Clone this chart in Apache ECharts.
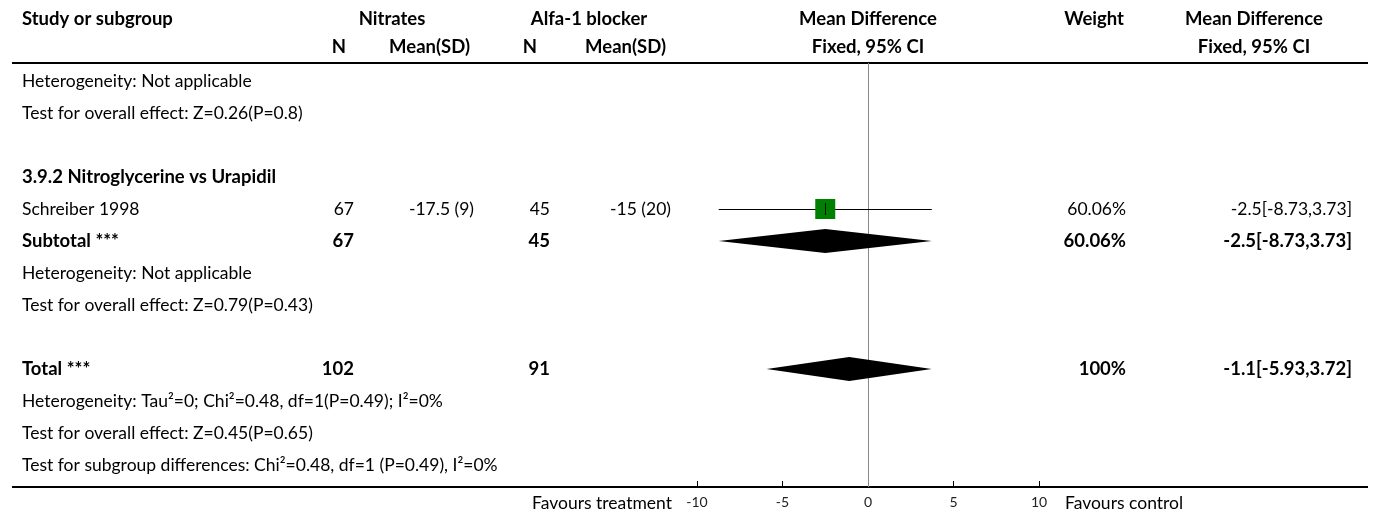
<!DOCTYPE html>
<html>
<head>
<meta charset="utf-8">
<script src="https://cdn.jsdelivr.net/npm/echarts@6/dist/echarts.min.js"></script>
<style>
  html, body { margin: 0; padding: 0; background: #fff; }
  #chart { width: 1373px; height: 515px; }
</style>
</head>
<body>
<div id="chart"></div>
<script>
// Forest plot: Nitrates vs Alfa-1 blocker, mean difference (fixed effect, 95% CI)

// Row labels, one per table line (blank strings are spacer rows)
const rowLabels = [
  'Heterogeneity: Not applicable',
  'Test for overall effect: Z=0.26(P=0.8)',
  '',
  '3.9.2 Nitroglycerine vs Urapidil',
  'Schreiber 1998',
  'Subtotal ***',
  'Heterogeneity: Not applicable',
  'Test for overall effect: Z=0.79(P=0.43)',
  '',
  'Total ***',
  'Heterogeneity: Tau\u00b2=0; Chi\u00b2=0.48, df=1(P=0.49); I\u00b2=0%',
  'Test for overall effect: Z=0.45(P=0.65)',
  'Test for subgroup differences: Chi\u00b2=0.48, df=1 (P=0.49), I\u00b2=0%'
];
// Which rows are set in bold
const boldRows = [3, 5, 9];

// Individual study
const studyRow = [4];
const nitratesN = [67];
const nitratesMeanSD = ['-17.5 (9)'];
const alfaN = [45];
const alfaMeanSD = ['-15 (20)'];
const studyMD = [-2.5];
const studyLow = [-8.73];
const studyHigh = [3.73];
const studyWeight = ['60.06%'];

// Pooled estimates (subtotal and total)
const pooledRow = [5, 9];
const pooledNitratesN = [67, 102];
const pooledAlfaN = [45, 91];
const pooledMD = [-2.5, -1.1];
const pooledLow = [-8.73, -5.93];
const pooledHigh = [3.73, 3.72];
const pooledWeight = ['60.06%', '100%'];

// Axis ticks of the effect scale
const axisMin = -10, axisMax = 10, axisStep = 5;

const FONT = 'Lato, "Source Sans Pro", "Noto Sans", sans-serif';
const fontN = '17.5px ' + FONT;
const fontB = 'bold 18.5px ' + FONT;

function ciText(md, lo, hi) { return md + '[' + lo + ',' + hi + ']'; }

// Text contents of each row, per column
const tableRows = rowLabels.map((label, r) => {
  const cells = { label: label, bold: boldRows.includes(r) };
  const s = studyRow.indexOf(r);
  if (s >= 0) {
    cells.nN = String(nitratesN[s]); cells.nM = nitratesMeanSD[s];
    cells.aN = String(alfaN[s]); cells.aM = alfaMeanSD[s];
    cells.w = studyWeight[s]; cells.ci = ciText(studyMD[s], studyLow[s], studyHigh[s]);
  }
  const p = pooledRow.indexOf(r);
  if (p >= 0) {
    cells.nN = String(pooledNitratesN[p]); cells.aN = String(pooledAlfaN[p]);
    cells.w = pooledWeight[p]; cells.ci = ciText(pooledMD[p], pooledLow[p], pooledHigh[p]);
  }
  return [0, r, cells];
});

const COL = { label: 22, nN: 354, nM: 474, aN: 550, aM: 671, w: 1126, ci: 1352 };

function txt(x, y, text, font, align) {
  return {
    type: 'text', x: x, y: y,
    style: { text: text, font: font, fill: '#000', textAlign: align, textVerticalAlign: 'middle' }
  };
}

const chart = echarts.init(document.getElementById('chart'), null, { renderer: 'canvas' });

chart.setOption({
  animation: false,
  backgroundColor: '#fff',
  grid: { left: 697, width: 342, top: 63, height: 424 },
  xAxis: {
    type: 'value', min: axisMin, max: axisMax, interval: axisStep, position: 'bottom',
    axisLine: { show: true, onZero: false, lineStyle: { color: '#000', width: 2 } },
    axisTick: { show: true, inside: true, length: 6, lineStyle: { color: '#000', width: 1 } },
    axisLabel: { fontSize: 14, color: '#222', margin: 8, fontFamily: FONT },
    splitLine: { show: false }
  },
  yAxis: {
    type: 'value', inverse: true, min: -0.5625, max: 12.6875, show: false
  },
  graphic: [
    // header text
    txt(22, 19, 'Study or subgroup', fontB, 'left'),
    txt(392, 19, 'Nitrates', fontB, 'center'),
    txt(589, 19, 'Alfa-1 blocker', fontB, 'center'),
    txt(868, 19, 'Mean Difference', fontB, 'center'),
    txt(1124, 19, 'Weight', fontB, 'right'),
    txt(1254, 19, 'Mean Difference', fontB, 'center'),
    txt(346, 47, 'N', fontB, 'right'),
    txt(470, 47, 'Mean(SD)', fontB, 'right'),
    txt(537, 47, 'N', fontB, 'right'),
    txt(666, 47, 'Mean(SD)', fontB, 'right'),
    txt(868, 47, 'Fixed, 95% CI', fontB, 'center'),
    txt(1254, 47, 'Fixed, 95% CI', fontB, 'center'),
    // rules
    { type: 'line', shape: { x1: 12, y1: 63, x2: 1368, y2: 63 }, style: { stroke: '#000', lineWidth: 2 } },
    { type: 'line', shape: { x1: 12, y1: 487, x2: 1368, y2: 487 }, style: { stroke: '#000', lineWidth: 2 } },
    // favours labels
    txt(672, 503, 'Favours treatment', fontN, 'right'),
    txt(1065, 503, 'Favours control', fontN, 'left')
  ],
  series: [
    {
      // table text, positioned on the row scale
      type: 'custom', clip: false, silent: true,
      data: tableRows,
      renderItem: function (params, api) {
        const item = tableRows[params.dataIndex][2];
        const y = api.coord([0, api.value(1)])[1];
        const f = item.bold ? fontB : fontN;
        const ch = [];
        if (item.label) ch.push(txt(COL.label, y, item.label, f, 'left'));
        ['nN', 'nM', 'aN', 'aM', 'w', 'ci'].forEach(k => {
          if (item[k]) ch.push(txt(COL[k], y, item[k], f, 'right'));
        });
        return { type: 'group', children: ch };
      },
      markLine: {
        silent: true, symbol: 'none', label: { show: false },
        lineStyle: { color: '#888', width: 1, type: 'solid' },
        data: [{ xAxis: 0 }]
      },
      z: 5
    },
    {
      // study estimate: CI whisker, weighted square, centre tick
      type: 'custom', clip: false,
      data: studyRow.map((r, i) => [studyMD[i], r, studyLow[i], studyHigh[i]]),
      renderItem: function (params, api) {
        const r = api.value(1);
        const c = api.coord([api.value(0), r]);
        const lo = api.coord([api.value(2), r]);
        const hi = api.coord([api.value(3), r]);
        const yl = Math.round(c[1]) + 0.5;
        const xc = Math.round(c[0]) + 0.5;
        const half = 10;
        return {
          type: 'group',
          children: [
            { type: 'line', shape: { x1: lo[0], y1: yl, x2: hi[0], y2: yl }, style: { stroke: '#000', lineWidth: 1 } },
            { type: 'rect', shape: { x: c[0] - half, y: c[1] - half, width: half * 2, height: half * 2 }, style: { fill: '#008000' } },
            { type: 'line', shape: { x1: xc, y1: c[1] - 6, x2: xc, y2: c[1] + 6 }, style: { stroke: '#000', lineWidth: 1 } }
          ]
        };
      },
      z: 6
    },
    {
      // pooled estimates as diamonds
      type: 'custom', clip: false,
      data: pooledRow.map((r, i) => [pooledMD[i], r, pooledLow[i], pooledHigh[i]]),
      renderItem: function (params, api) {
        const r = api.value(1);
        const c = api.coord([api.value(0), r]);
        const lo = api.coord([api.value(2), r]);
        const hi = api.coord([api.value(3), r]);
        const h = 12;
        return {
          type: 'polygon',
          shape: { points: [[lo[0], c[1]], [c[0], c[1] - h], [hi[0], c[1]], [c[0], c[1] + h]] },
          style: { fill: '#000' }
        };
      },
      z: 6
    }
  ]
});
</script>
</body>
</html>
